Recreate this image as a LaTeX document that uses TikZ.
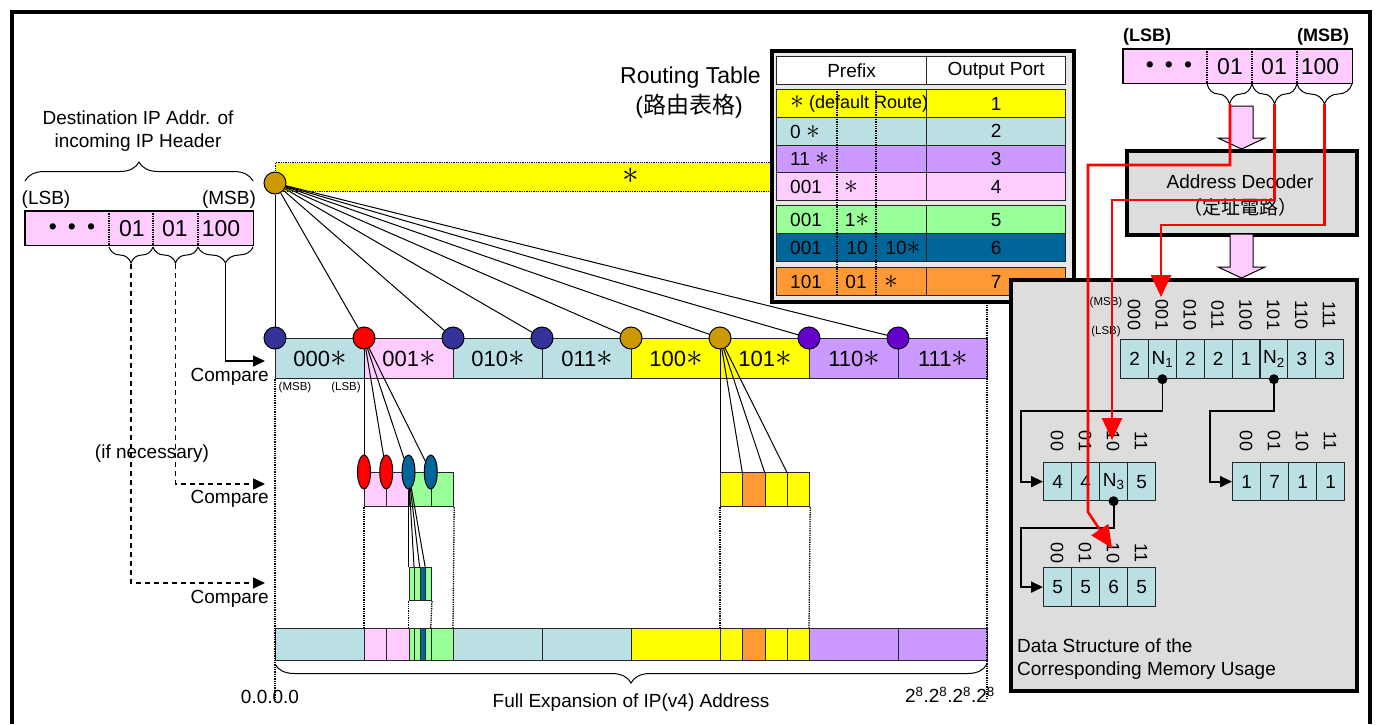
\documentclass[tikz,border=0pt]{standalone}
\usepackage{fontspec}
\usepackage{graphicx}
\setmainfont{Liberation Sans}
\newfontfamily\cjk{Noto Sans CJK TC}
\usetikzlibrary{arrows.meta,shapes.geometric,decorations.pathreplacing}
\newcommand{\myast}{\scalebox{1.6}{$\ast$}}
\definecolor{cyanc}{RGB}{187,224,227}
\definecolor{pinkc}{RGB}{255,204,255}
\definecolor{yellowc}{RGB}{255,255,0}
\definecolor{purplec}{RGB}{204,153,255}
\definecolor{greenc}{RGB}{153,255,153}
\definecolor{bluec}{RGB}{0,102,153}
\definecolor{orangec}{RGB}{255,153,51}
\definecolor{navyc}{RGB}{51,51,153}
\definecolor{goldc}{RGB}{204,153,0}
\definecolor{violetc}{RGB}{102,0,204}
\definecolor{redc}{RGB}{255,0,0}
\definecolor{grayc}{RGB}{221,221,221}
\definecolor{tablebg}{RGB}{232,232,232}
\begin{document}
\begin{tikzpicture}[x=1pt,y=-1pt,
  lbl/.style={inner sep=0pt, font=\fontsize{#1}{#1}\selectfont},
  lbl/.default=19,
  lblb/.style={inner sep=0pt, font=\fontsize{18}{18}\selectfont\bfseries},
  cellbox/.style={draw=black!85, line width=1.2pt, inner sep=0pt, anchor=north west, minimum height=#1},
  flatcell/.style={inner sep=0pt, anchor=north west, minimum height=#1},
  circ/.style={circle, draw=black, line width=1pt, minimum size=22pt, inner sep=0pt},
  ellnode/.style={ellipse, draw=black, line width=1pt, minimum width=13pt, minimum height=34pt, inner sep=0pt},
  dotn/.style={circle, fill=black, minimum size=10pt, inner sep=0pt},
  fan/.style={line width=1pt},
  guide/.style={densely dotted, line width=1.3pt},
  bracu/.style={decorate, decoration={brace, amplitude=#1}, line width=1pt},
  bracd/.style={decorate, decoration={brace, mirror, amplitude=#1}, line width=1pt},
  cmp/.style={line width=1.6pt, -{Triangle[width=11pt,length=12pt]}},
  cmpd/.style={cmp, dash pattern=on 5pt off 4pt},
  redarr/.style={draw=redc, line width=2.6pt, -{Triangle[width=20pt,length=22pt]}},
  memarr/.style={line width=1.8pt, -{Triangle[width=11pt,length=12pt]}},
  blockarr/.style={fill=pinkc, draw=black, line width=1pt},
  thickbox/.style={draw=black, line width=3.5pt, inner sep=0pt, anchor=north west},
  rot/.style={inner sep=0pt, rotate=-90, font=\fontsize{18}{18}\selectfont},
  small/.style={inner sep=0pt, font=\fontsize{11.5}{11.5}\selectfont},
]
\useasboundingbox (0,0) rectangle (1377,724);
\fill[white] (0,0) rectangle (1377,724);
\draw[line width=4pt] (11.5,724) -- (11.5,11.5) -- (1369.5,11.5) -- (1369.5,724);

% ---------- left header ----------
\node[inner sep=0pt, align=center, font=\fontsize{19}{23}\selectfont] (dtitle) at (138,131) {Destination IP Addr. of\\incoming IP Header};
\draw[bracu=19pt] (25,181) -- (253,181);
\node[lbl] (lsb1) at (46,200) {(LSB)};
\node[lbl] (msb1) at (229,200) {(MSB)};
\node[flatcell=34pt, minimum width=84pt, fill=pinkc] (h0) at (25,211) {};
\node[flatcell=34pt, minimum width=44pt, fill=pinkc] (h1) at (109,211) {};
\node[flatcell=34pt, minimum width=45pt, fill=pinkc] (h2) at (153,211) {};
\node[flatcell=34pt, minimum width=55pt, fill=pinkc] (h3) at (198,211) {};
\draw[line width=1.2pt] (h0.north west) rectangle (h3.south east);
\draw[guide] (h1.north west) -- (h1.south west);
\draw[guide] (h2.north west) -- (h2.south west);
\draw[guide] (h3.north west) -- (h3.south west);
\node[lbl=23] (hd0) at (72,229) {\textbullet\hspace{11pt}\textbullet\hspace{11pt}\textbullet};
\node[lbl=23] (hd1) at (132,229) {01};
\node[lbl=23] (hd2) at (175,229) {01};
\node[lbl=23] (hd3) at (221,229) {100};
\draw[bracd=16pt] (109,247) -- (153,247);
\draw[bracd=16pt] (153,247) -- (198,247);
\draw[bracd=16pt] (198,247) -- (253,247);
\coordinate (tp1) at (131,264);
\coordinate (tp2) at (175.5,264);
\coordinate (tp3) at (225.5,264);
\coordinate (ca1) at (265,361);
\coordinate (ca2) at (265,484);
\coordinate (ca3) at (265,583);
\draw[cmp] (tp3) |- (ca1);
\draw[cmpd] (tp2) |- (ca2);
\draw[cmpd] (tp1) |- (ca3);
\node[lbl, anchor=east] (cp1) at (269,377) {Compare};
\node[lbl, anchor=east] (cp2) at (269,499) {Compare};
\node[lbl, anchor=east] (cp3) at (269,599) {Compare};
\node[lbl] (ifn) at (152,454) {(if necessary)};

% ---------- star bar and root ----------
\node[flatcell=29pt, minimum width=497pt, fill=yellowc, draw=black, densely dotted, line width=1.3pt] (sbar) at (275,162) {};
\node[lbl=22] (sstar) at (631,176) {\myast};

% ---------- main bar ----------
\foreach \i/\lab/\col in {0/000/cyanc,1/001/pinkc,2/010/cyanc,3/011/cyanc,4/100/yellowc,5/101/yellowc,6/110/purplec,7/111/purplec}
  \node[cellbox=40pt, minimum width=89pt, fill=\col, font=\fontsize{22}{22}\selectfont] (m\i) at ({275+89*\i},338) {\lab\myast};
\node[small] (msbm) at (295,388) {(MSB)};
\node[small] (lsbm) at (346,388) {(LSB)};

% second level (001)
\foreach \i/\col in {0/pinkc,1/pinkc,2/greenc,3/greenc}
  \node[cellbox=34pt, minimum width=22.25pt, fill=\col] (s\i) at ({364+22.25*\i},472) {};
% second level (101)
\foreach \i/\col in {0/yellowc,1/orangec,2/yellowc,3/yellowc}
  \node[cellbox=34pt, minimum width=22.25pt, fill=\col] (t\i) at ({720+22.25*\i},472) {};
% third level
\foreach \i/\col in {0/greenc,1/greenc,2/bluec,3/greenc}
  \node[cellbox=33pt, minimum width=5.5625pt, fill=\col] (u\i) at ({408.5+5.5625*\i},567) {};

% bottom bar
\foreach \n/\x/\w/\col in {1/275/89/cyanc,2/364/22.25/pinkc,3/386.25/22.25/pinkc,4/408.5/5.5625/greenc,5/414.0625/5.5625/greenc,6/419.625/5.5625/bluec,7/425.1875/5.5625/greenc,8/430.75/22.25/greenc,9/453/89/cyanc,10/542/89/cyanc,11/631/89/yellowc,12/720/22.25/yellowc,13/742.25/22.25/orangec,14/764.5/22.25/yellowc,15/786.75/22.25/yellowc,16/809/89/purplec,17/898/89/purplec}
  \node[cellbox=32pt, minimum width=\w pt, fill=\col] (b\n) at (\x,628) {};

% dotted guides
\draw[guide] (m0.south west) -- (275,700);
\draw[guide] (987,300) -- (987,700);
\draw[guide] (s0.south west) -- (b2.north west);
\draw[guide] (s3.south east) -- (b9.north west);
\draw[guide] (u0.south west) -- (b4.north west);
\draw[guide] (u3.south east) -- (b8.north west);
\draw[guide] (t0.south west) -- (b12.north west);
\draw[guide] (t3.south east) -- (b16.north west);

% circles
\node[circ, fill=goldc] (root) at (275,183) {};
\foreach \i/\col in {0/navyc,1/redc,2/navyc,3/navyc,4/goldc,5/goldc,6/violetc,7/violetc}
  \node[circ, fill=\col] (c\i) at (m\i.north west) {};
\foreach \i/\col in {0/redc,1/redc,2/bluec,3/bluec}
  \node[ellnode, fill=\col] (e\i) at (s\i.north west) {};
\foreach \i in {0,...,7} \draw[fan] (root) -- (c\i);
\foreach \i in {0,...,3} \draw[fan] (c1) -- (e\i);
\foreach \i in {0,...,3} \draw[fan] (c5) -- (t\i.north west);
\foreach \i in {0,...,3} \draw[fan] (e2) -- (u\i.north west);

% bottom brace and labels
\draw[bracd=19pt] (275,664) -- (987,664);
\node[lbl] (zero) at (270,697) {0.0.0.0};
\node[lbl] (full) at (631,703) {Full Expansion of IP(v4) Address};
\node[lbl] (maxa) at (950,695) {2\textsuperscript{8}.2\textsuperscript{8}.2\textsuperscript{8}.2\textsuperscript{8}};

% ---------- routing table ----------
\node[lbl=23, anchor=east] (rtt) at (761,78) {Routing Table};
\node[lbl=23] (rtc) at (689,106) {({\cjk 路由表格})};
\node[thickbox, fill=tablebg, minimum width=302pt, minimum height=251pt] (tbl) at (770,49) {};
\node[cellbox=28pt, minimum width=150pt, fill=white, font=\fontsize{19}{19}\selectfont] (hpre) at (776,56) {Prefix};
\node[cellbox=28pt, minimum width=139pt, fill=white, font=\fontsize{19}{19}\selectfont] (hout) at (926,56) {Output Port};
\foreach \n/\y/\h/\col/\p in {1/89/27.75/yellowc/1,2/116.75/27.75/cyanc/2,3/144.5/27.75/purplec/3,4/172.25/27.75/pinkc/4,5/205/28/greenc/5,6/233/28/bluec/6,7/267/28/orangec/7}{
  \node[cellbox=\h pt, minimum width=150pt, fill=\col] (tr\n) at (776,\y) {};
  \node[cellbox=\h pt, minimum width=139pt, fill=\col, font=\fontsize{19}{19}\selectfont] (tp\n) at (926,\y) {\p};
}
\draw[guide] (837,89) -- (837,295);
\draw[guide] (876,89) -- (876,295);
\node[lbl=18, anchor=west] (r1a) at (790,104) {\myast\ (default Route)};
\node[lbl, anchor=west] (r2a) at (790,132) {0 \myast};
\node[lbl, anchor=west] (r3a) at (790,159) {11 \myast};
\node[lbl, anchor=west] (r4a) at (790,187) {001};
\node[lbl] (r4b) at (851,187) {\myast};
\node[lbl, anchor=west] (r5a) at (790,220) {001};
\node[lbl] (r5b) at (857,220) {1\myast};
\node[lbl, anchor=west] (r6a) at (790,248) {001};
\node[lbl] (r6b) at (857,248) {10};
\node[lbl] (r6c) at (903,248) {10\myast};
\node[lbl, anchor=west] (r7a) at (790,282) {101};
\node[lbl] (r7b) at (856,282) {01};
\node[lbl] (r7c) at (891,282) {\myast};

% ---------- right: address, decoder ----------
\node[lblb] (lsb2) at (1147,37) {(LSB)};
\node[lblb] (msb2) at (1323,37) {(MSB)};
\node[flatcell=34pt, minimum width=84pt, fill=pinkc] (g0) at (1123,49) {};
\node[flatcell=34pt, minimum width=45pt, fill=pinkc] (g1) at (1207,49) {};
\node[flatcell=34pt, minimum width=45pt, fill=pinkc] (g2) at (1252,49) {};
\node[flatcell=34pt, minimum width=55pt, fill=pinkc] (g3) at (1297,49) {};
\draw[line width=1.2pt] (g0.north west) rectangle (g3.south east);
\draw[guide] (g1.north west) -- (g1.south west);
\draw[guide] (g2.north west) -- (g2.south west);
\draw[guide] (g3.north west) -- (g3.south west);
\node[lbl=23] (gd0) at (1169,67) {\textbullet\hspace{11pt}\textbullet\hspace{11pt}\textbullet};
\node[lbl=23] (gd1) at (1230,67) {01};
\node[lbl=23] (gd2) at (1274,67) {01};
\node[lbl=23] (gd3) at (1320,67) {100};
\draw[bracd=20pt] (1207,84) -- (1252,84);
\draw[bracd=20pt] (1252,84) -- (1297,84);
\draw[bracd=20pt] (1297,84) -- (1352,84);

\filldraw[blockarr] (1230,106) -- (1253,106) -- (1253,138) -- (1265,138) -- (1241.5,149) -- (1218,138) -- (1230,138) -- cycle;
\node[thickbox, fill=grayc, minimum width=230pt, minimum height=84pt] (dec) at (1125,149) {};
\node[lbl] (dect) at (1240,182) {Address Decoder};
\node[lbl] (decc) at (1240,207) {{\cjk （定址電路）}};
\filldraw[blockarr] (1230,234) -- (1253,234) -- (1253,267) -- (1265,267) -- (1241.5,278) -- (1218,267) -- (1230,267) -- cycle;

% ---------- memory structure ----------
\node[thickbox, fill=grayc, minimum width=346pt, minimum height=411pt] (mem) at (1009,278) {};
\foreach \i/\v/\l in {0/2/000,1/N\textsubscript{1}/001,2/2/010,3/2/011,4/1/100,5/N\textsubscript{2}/101,6/3/110,7/3/111}{
  \node[cellbox=39pt, minimum width=27.875pt, fill=cyanc, font=\fontsize{19}{19}\selectfont] (a\i) at ({1120+27.875*\i},339) {\v};
  \node[rot] (al\i) at ({1133.94+27.875*\i},315) {\l};
}
\node[small] (msb3) at (1106,303) {(MSB)};
\node[small] (lsb3) at (1106,332) {(LSB)};
\foreach \i/\v/\l in {0/4/00,1/4/01,2/N\textsubscript{3}/10,3/5/11}{
  \node[cellbox=38pt, minimum width=28pt, fill=cyanc, font=\fontsize{19}{19}\selectfont] (p\i) at ({1043+28*\i},462) {\v};
  \node[rot] (pl\i) at ({1057+28*\i},441) {\l};
}
\foreach \i/\v/\l in {0/1/00,1/7/01,2/1/10,3/1/11}{
  \node[cellbox=38pt, minimum width=28pt, fill=cyanc, font=\fontsize{19}{19}\selectfont] (q\i) at ({1232+28*\i},462) {\v};
  \node[rot] (ql\i) at ({1246+28*\i},441) {\l};
}
\foreach \i/\v/\l in {0/5/00,1/5/01,2/6/10,3/5/11}{
  \node[cellbox=39pt, minimum width=28pt, fill=cyanc, font=\fontsize{19}{19}\selectfont] (w\i) at ({1043+28*\i},567) {\v};
  \node[rot] (wl\i) at ({1057+28*\i},553) {\l};
}
\node[dotn] (d1) at (a1.south) {};
\node[dotn] (d2) at (a5.south) {};
\node[dotn] (d3) at (p2.south) {};
\draw[memarr] (d1.center) |- (1021,411) |- (p0.west);
\draw[memarr] (d2.center) |- (1210,411) |- (q0.west);
\draw[memarr] (d3.center) |- (1021,528) |- (w0.west);
\node[inner sep=0pt, align=left, anchor=west, font=\fontsize{19}{23}\selectfont] (dslbl) at (1017,659) {Data Structure of the\\Corresponding Memory Usage};

% ---------- red lines ----------
\coordinate (rt1) at (1230,104);
\coordinate (rt2) at (1274.5,104);
\coordinate (rt3) at (1324.5,104);
\coordinate (r1e) at (1112,548);
\coordinate (r2e) at (1112,440);
\coordinate (r3e) at (1161,297);
\draw[redarr] (rt1) -- (1230,165) -- (1088,165) -- (1088,512) -- (r1e);
\draw[redarr] (rt2) |- (1112,200) -- (r2e);
\draw[redarr] (rt3) |- (1161,225) -- (r3e);
\end{tikzpicture}
\end{document}
